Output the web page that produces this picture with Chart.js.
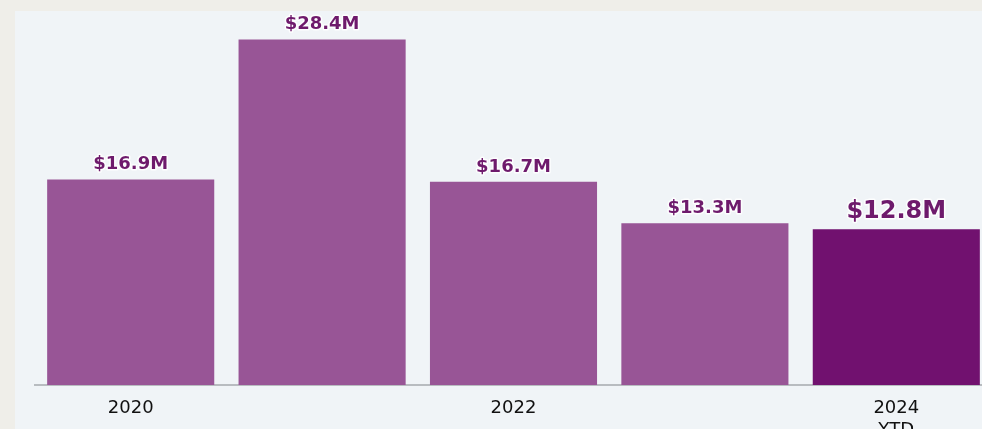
<!DOCTYPE html>
<html>
<head>
<meta charset="utf-8">
<script src="https://cdn.jsdelivr.net/npm/chart.js@4.4.1/dist/chart.umd.min.js"></script>
<style>
  html, body { margin:0; padding:0; width:982px; height:429px; overflow:hidden; background:#efeee9; }
  #panel { position:absolute; left:15px; top:11px; width:967px; height:418px; background:#f0f4f7; }
  #wrap { position:absolute; left:0; top:0; width:992px; height:429px; }
</style>
</head>
<body>
<div id="panel"></div>
<div id="wrap"><canvas id="c"></canvas></div>
<script>
const categories = ['2020', '2021', '2022', '2023', ['2024', 'YTD']];
const values = [16.9, 28.4, 16.7, 13.3, 12.8];
const valueLabels = ['$16.9M', '$28.4M', '$16.7M', '$13.3M', '$12.8M'];
const shownTickIndexes = [0, 2, 4];
const barColors = ['#985596', '#985596', '#985596', '#985596', '#71116f'];

const valueLabelPlugin = {
  id: 'valueLabels',
  afterDatasetsDraw(chart) {
    const ctx = chart.ctx;
    const meta = chart.getDatasetMeta(0);
    meta.data.forEach((bar, i) => {
      const last = i === meta.data.length - 1;
      ctx.save();
      ctx.font = 'bold ' + (last ? 24 : 18) + 'px "DejaVu Sans"';
      ctx.textAlign = 'center';
      ctx.textBaseline = 'alphabetic';
      const y = bar.y - (last ? 11 : 10);
      ctx.lineWidth = 3;
      ctx.strokeStyle = 'rgba(255,255,255,0.85)';
      ctx.lineJoin = 'round';
      ctx.strokeText(valueLabels[i], bar.x, y);
      ctx.fillStyle = '#6e1a6c';
      ctx.fillText(valueLabels[i], bar.x, y);
      ctx.restore();
    });
  }
};

new Chart(document.getElementById('c'), {
  type: 'bar',
  data: {
    labels: categories,
    datasets: [{
      data: values,
      backgroundColor: barColors,
      borderWidth: 0,
      categoryPercentage: 1,
      barPercentage: 0.873
    }]
  },
  options: {
    responsive: true,
    maintainAspectRatio: false,
    animation: false,
    layout: { padding: { left: 35, top: 20, right: 0, bottom: 0 } },
    plugins: { legend: { display: false }, tooltip: { enabled: false } },
    scales: {
      x: {
        grid: { display: false },
        border: { display: true, color: '#b8bcc0', width: 2 },
        ticks: {
          autoSkip: false,
          maxRotation: 0,
          padding: 5,
          color: '#111111',
          font: { family: '"DejaVu Sans"', size: 18, weight: '500' },
          callback: function(value, index) {
            return shownTickIndexes.includes(index) ? this.getLabelForValue(value) : '';
          }
        },
        afterFit(scale) { scale.height = 44; }
      },
      y: {
        display: false,
        min: 0,
        max: 30
      }
    }
  },
  plugins: [valueLabelPlugin]
});
</script>
</body>
</html>
